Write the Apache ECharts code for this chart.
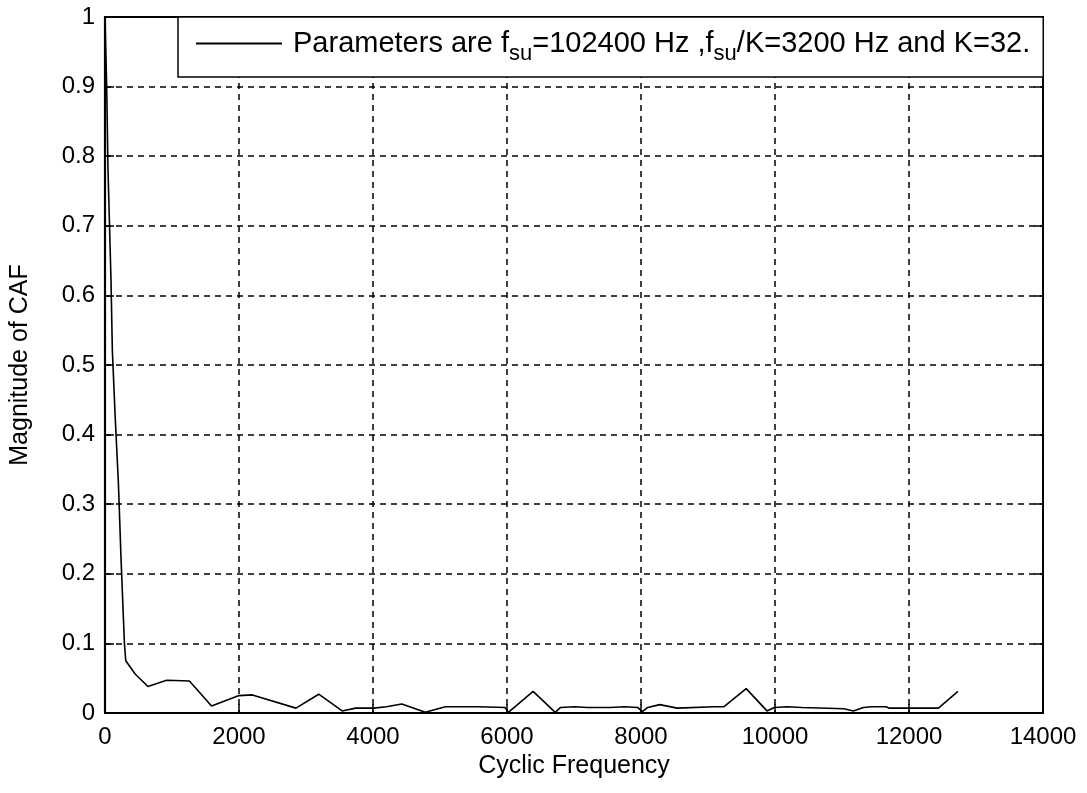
<!DOCTYPE html>
<html>
<head>
<meta charset="utf-8">
<script src="https://cdn.jsdelivr.net/npm/echarts@6/dist/echarts.min.js"></script>
<style>
html,body{margin:0;padding:0;background:#fff;}
#chart{width:1087px;height:793px;}
</style>
</head>
<body>
<div id="chart"></div>
<script>
// Cyclic frequency (Hz) and CAF magnitude
const freqHz = [0, 25, 45, 90, 110, 150, 200, 240, 290, 310, 450, 640, 920, 1260, 1590, 2000, 2200, 2850, 3190, 3540, 3740, 4010, 4200, 4430, 4780, 5080, 5570, 5970, 6020, 6390, 6720, 6800, 7010, 7200, 7530, 7550, 7760, 7950, 8020, 8100, 8280, 8540, 9090, 9240, 9570, 9880, 9990, 10180, 10400, 11030, 11170, 11320, 11440, 11660, 11700, 12440, 12730];
const magnitude = [1.0, 0.9, 0.78, 0.62, 0.52, 0.43, 0.33, 0.22, 0.10, 0.075, 0.056, 0.038, 0.047, 0.046, 0.010, 0.025, 0.026, 0.007, 0.027, 0.003, 0.007, 0.007, 0.009, 0.013, 0.001, 0.009, 0.009, 0.008, 0.001, 0.031, 0.001, 0.008, 0.009, 0.008, 0.008, 0.009, 0.009, 0.008, 0.002, 0.008, 0.012, 0.007, 0.009, 0.009, 0.035, 0.003, 0.008, 0.009, 0.008, 0.006, 0.003, 0.008, 0.009, 0.009, 0.007, 0.007, 0.031];
const xTicks = [0, 2000, 4000, 6000, 8000, 10000, 12000, 14000];
const yTicks = [0, 0.1, 0.2, 0.3, 0.4, 0.5, 0.6, 0.7, 0.8, 0.9, 1];
const seriesName = 'CAF';
const legendText = '{p|Parameters are f}{s|su}{a|=102400 Hz ,f}{s|su}{a|/K=3200 Hz and K=32.}';
const xLabel = 'Cyclic Frequency';
const yLabel = 'Magnitude of CAF';

const FONT = 'Liberation Sans, Arial, sans-serif';
const chart = echarts.init(document.getElementById('chart'), null, {renderer: 'canvas'});
const points = freqHz.map((f, i) => [f, magnitude[i]]);
const gridDash = {color: '#000', width: 1.5, type: [6, 5]};

chart.setOption({
  animation: false,
  backgroundColor: '#fff',
  grid: {left: 105, right: 44, top: 17, bottom: 80, show: true,
    backgroundColor: 'transparent', borderColor: '#000', borderWidth: 1.8},
  legend: {
    data: [seriesName],
    left: 178, top: 17,
    padding: [12, 13, 12, 18],
    itemWidth: 86, itemHeight: 2,
    icon: 'rect',
    backgroundColor: '#fff',
    borderColor: '#000', borderWidth: 1.5, borderRadius: 0,
    itemStyle: {color: '#000', borderWidth: 0},
    formatter: function () { return legendText; },
    textStyle: {
      color: '#000', fontFamily: FONT, fontSize: 29,
      rich: {
        p: {fontSize: 29, lineHeight: 29, verticalAlign: 'top', padding: [0, 0, 0, 6], fontFamily: FONT, color: '#000'},
        a: {fontSize: 29, lineHeight: 29, verticalAlign: 'top', fontFamily: FONT, color: '#000'},
        s: {fontSize: 22, lineHeight: 22, verticalAlign: 'top', padding: [14, 0, 0, 0], fontFamily: FONT, color: '#000'}
      }
    }
  },
  xAxis: [{
    type: 'value', min: xTicks[0], max: xTicks[xTicks.length - 1], interval: 2000,
    name: xLabel, nameLocation: 'middle', nameGap: 40,
    nameTextStyle: {color: '#000', fontFamily: FONT, fontSize: 25},
    axisLine: {show: true, onZero: false, lineStyle: {color: '#000', width: 1.8}},
    axisTick: {show: true, inside: true, length: 9, lineStyle: {color: '#000', width: 1.5}},
    axisLabel: {color: '#000', fontFamily: FONT, fontSize: 24, margin: 12,
      formatter: v => String(v)},
    splitLine: {show: true, lineStyle: gridDash}
  }, {
    type: 'value', position: 'top', min: xTicks[0], max: xTicks[xTicks.length - 1], interval: 2000,
    axisLine: {show: true, onZero: false, lineStyle: {color: '#000', width: 1.8}},
    axisTick: {show: true, inside: true, length: 9, lineStyle: {color: '#000', width: 1.5}},
    axisLabel: {show: false}, splitLine: {show: false}
  }],
  yAxis: [{
    type: 'value', min: yTicks[0], max: yTicks[yTicks.length - 1], interval: 0.1,
    name: yLabel, nameLocation: 'middle', nameGap: 72, nameRotate: 90,
    nameTextStyle: {color: '#000', fontFamily: FONT, fontSize: 25},
    axisLine: {show: true, onZero: false, lineStyle: {color: '#000', width: 2.2}},
    axisTick: {show: true, inside: true, length: 9, lineStyle: {color: '#000', width: 1.5}},
    axisLabel: {color: '#000', fontFamily: FONT, fontSize: 24, margin: 10,
      formatter: v => String(Math.round(v * 10) / 10)},
    splitLine: {show: true, lineStyle: gridDash}
  }, {
    type: 'value', position: 'right', min: yTicks[0], max: yTicks[yTicks.length - 1], interval: 0.1,
    axisLine: {show: true, onZero: false, lineStyle: {color: '#000', width: 1.8}},
    axisTick: {show: true, inside: true, length: 9, lineStyle: {color: '#000', width: 1.5}},
    axisLabel: {show: false}, splitLine: {show: false}
  }],
  series: [{
    name: seriesName, type: 'line', xAxisIndex: 0, yAxisIndex: 0,
    data: points, showSymbol: false, symbol: 'none',
    lineStyle: {color: '#000', width: 1.6}, itemStyle: {color: '#000'},
    z: 3
  }]
});
</script>
</body>
</html>
